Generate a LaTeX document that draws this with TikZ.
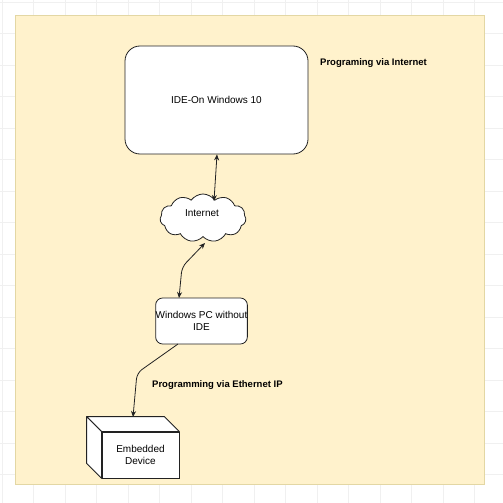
\documentclass[tikz,border=0pt]{standalone}
\usepackage{fontspec}
\setmainfont{Liberation Sans}
\usetikzlibrary{shapes.symbols,arrows.meta,calc}
\definecolor{panelfill}{HTML}{FFF2CC}
\definecolor{panelline}{HTML}{E3D7A4}
\definecolor{gridc}{HTML}{F0F0F0}
\definecolor{linec}{HTML}{222222}
\tikzset{
  box/.style={draw=linec, fill=white, line width=0.8pt, align=center, font=\fontsize{10}{12}\selectfont, inner sep=0pt},
  conn/.style={draw=linec, line width=0.8pt, rounded corners=6pt},
  tip/.style={-{Stealth[length=6pt,width=5pt]}},
  tips/.style={{Stealth[length=6pt,width=5pt]}-{Stealth[length=6pt,width=5pt]}},
  lbl/.style={font=\bfseries\fontsize{9.5}{11}\selectfont, anchor=west, inner sep=0pt}
}
\begin{document}
\begin{tikzpicture}[x=1pt,y=-1pt]
\useasboundingbox (0,0) rectangle (503,503);
\fill[white] (0,0) rectangle (503,503);
\foreach \g in {2,33.5,...,503} {
  \draw[gridc, line width=0.4pt] (\g,0) -- (\g,503);
  \draw[gridc, line width=0.4pt] (0,\g) -- (503,\g);
}
\draw[panelline, fill=panelfill, line width=0.8pt] (15,15) rectangle (484,484);

\node[box, rounded corners=15pt, minimum width=183pt, minimum height=108pt] (ide) at (216.5,100) {IDE-On Windows 10};
\node[lbl] (l1) at (320,63) {Programing via Internet};

\node[box, cloud, cloud puffs=11, cloud puff arc=110, aspect=1.8, minimum width=86pt, minimum height=48pt] (net) at (203,218) {};
\node[font=\fontsize{10}{12}\selectfont] (nett) at (202,213) {Internet};

\node[box, rounded corners=7pt, minimum width=91pt, minimum height=46pt] (pc) at (201.5,321) {Windows PC without\\IDE};

\node[box, minimum width=77pt, minimum height=46pt] (dev) at (140.5,455) {Embedded\\Device};
\coordinate (tl) at ($(dev.north west)+(-15,-15)$);
\coordinate (tr) at ($(dev.north east)+(-15,-15)$);
\coordinate (bl) at ($(dev.south west)+(-15,-15)$);
\draw[draw=linec, fill=white, line width=0.8pt, line join=round] (tl) -- (tr) -- (dev.north east) -- (dev.north west) -- cycle;
\draw[draw=linec, fill=white, line width=0.8pt, line join=round] (tl) -- (dev.north west) -- (dev.south west) -- (bl) -- cycle;
\coordinate (devtop) at ($(dev.north)+(-7.5,-15)$);

\node[lbl] (l2) at (152,385) {Programming via Ethernet IP};

\coordinate (a1) at (217,154);
\draw[conn, tips] (ide.south -| a1) -- (214,201);
\draw[conn, tips] (205,243) -- (182,267) -- (179,298);
\draw[conn, tip] (178,344) -- (137,373) -- (133,417);
\end{tikzpicture}
\end{document}
